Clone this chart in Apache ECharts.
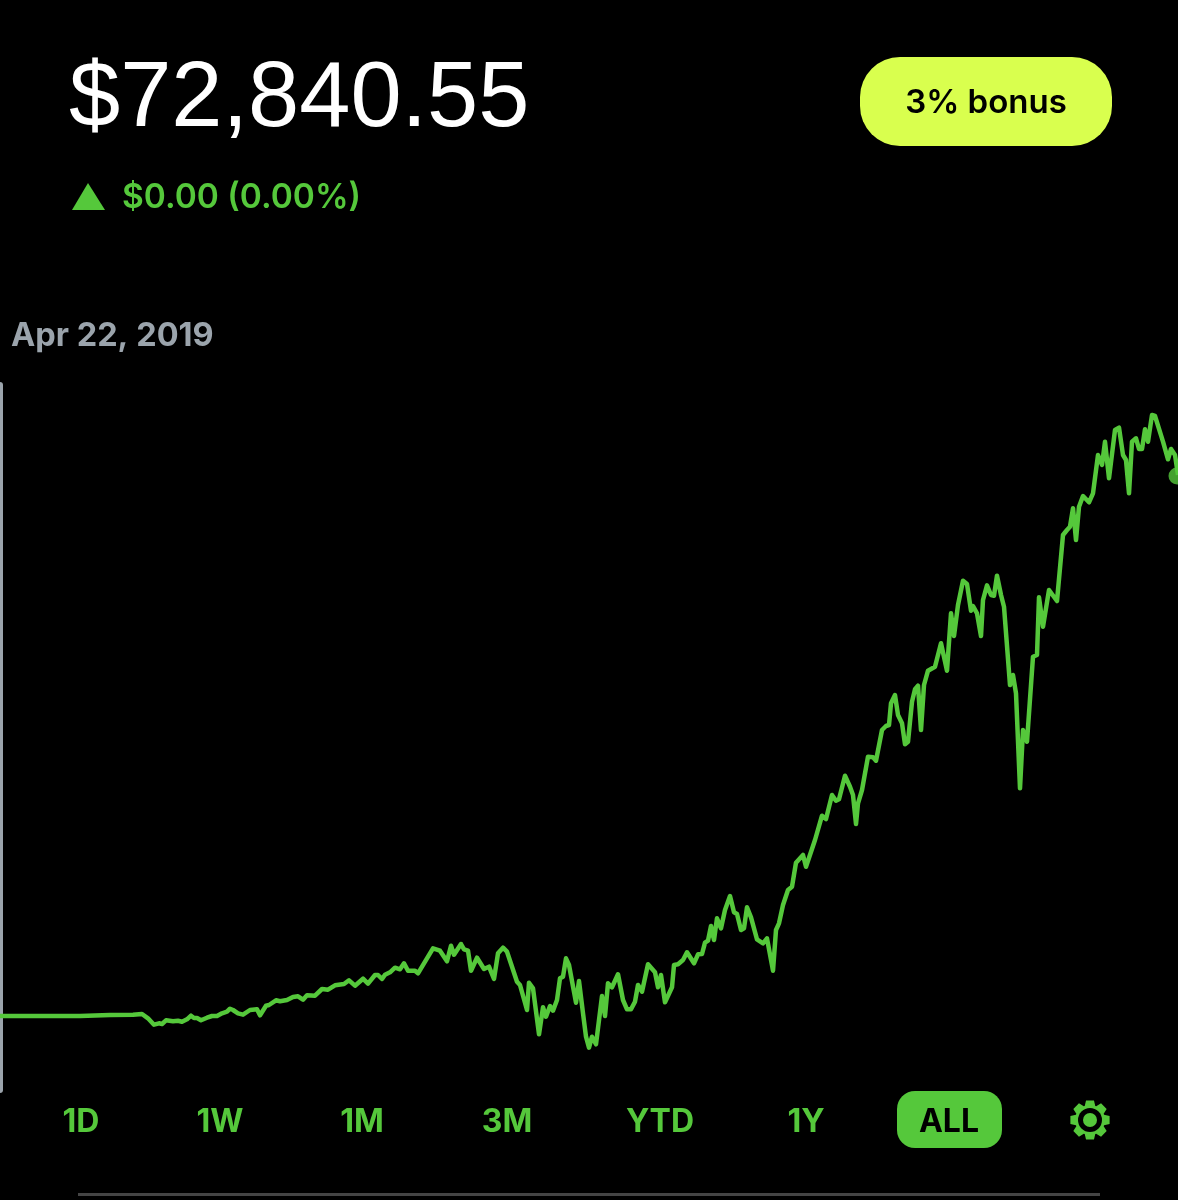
<!DOCTYPE html>
<html>
<head>
<meta charset="utf-8">
<style>
  html, body { margin: 0; padding: 0; background: #000; }
  #chart { width: 1178px; height: 1200px; }
</style>
<script src="https://cdn.jsdelivr.net/npm/echarts@6/dist/echarts.min.js"></script>
</head>
<body>
<div id="chart"></div>
<script>
// there is no printed axis so both are in relative units
const times = [
  0, 80, 110, 133, 142, 148, 154, 159, 162, 166, 173, 178, 182, 187, 191, 194, 197, 201, 207, 212,
  217, 222, 227, 230, 233, 238, 243, 250, 257, 260, 266, 269, 276, 280, 287, 293, 298, 299, 303, 307,
  315, 322, 328, 335, 344, 349, 355, 363, 368, 375, 378, 382, 385, 390, 395, 400, 404, 408, 415, 418,
  433, 440, 447, 451, 454, 461, 464, 468, 471, 477, 484, 489, 494, 498, 503, 507, 517, 520, 527, 529,
  533, 539, 543, 546, 550, 553, 557, 560, 563, 566, 569, 576, 579, 583, 586, 589, 592, 596, 602, 605,
  608, 612, 618, 623, 627, 631, 635, 638, 642, 648, 655, 658, 661, 665, 672, 674, 678, 683, 687, 694,
  698, 702, 705, 708, 711, 714, 717, 721, 725, 730, 734, 737, 741, 744, 747, 751, 753, 757, 763, 767,
  773, 776, 779, 783, 788, 792, 796, 803, 806, 815, 822, 826, 832, 836, 839, 845, 850, 853, 856, 858,
  862, 868, 873, 876, 882, 886, 889, 891, 895, 898, 902, 905, 908, 912, 915, 918, 921, 924, 928, 935,
  941, 947, 951, 954, 958, 963, 967, 971, 973, 977, 981, 983, 987, 991, 994, 997, 1001, 1004, 1010, 1013,
  1016, 1020, 1023, 1027, 1033, 1037, 1039, 1043, 1049, 1057, 1063, 1067, 1070, 1073, 1076, 1079, 1083, 1089, 1093, 1098,
  1102, 1105, 1109, 1115, 1119, 1123, 1126, 1129, 1132, 1136, 1139, 1142, 1145, 1148, 1152, 1155, 1163, 1168, 1171, 1175,
  1178
];
const balance = [
  74, 74, 75, 75.3, 76, 71.7, 65.3, 66.7, 66, 69.7, 68.7, 69.3, 68.3, 70.7, 74.3, 72, 72, 69.7, 72.3, 74,
  74, 76.7, 78.3, 81.3, 80, 76.7, 75.3, 80, 80.7, 74.7, 84.3, 85, 89.7, 88.7, 90, 93, 93.7, 95.3, 90.3, 94.7,
  94.3, 101, 100.3, 104.7, 106, 109.7, 104.3, 111.3, 106.3, 115, 115, 111, 115.3, 117.7, 122.3, 120.7, 126.7, 119.3, 119.3, 116.7,
  141.7, 139.3, 128.7, 144.3, 135.3, 146, 140.7, 139.3, 119.3, 132.3, 121, 123.3, 111, 136.7, 142.3, 138.3, 108.3, 105, 80, 107.3,
  101.7, 55.7, 82.7, 73.3, 84, 79.3, 90, 111.7, 113.3, 131.7, 125, 87.3, 109, 76.7, 53.3, 42.3, 53.3, 45.7, 94, 74,
  106.7, 102.7, 115.7, 90, 80.7, 80.7, 88.3, 105, 98.3, 125.7, 117.7, 102.7, 115, 87.7, 102.7, 125, 125.7, 130, 137.7, 126.7,
  135.7, 136, 147.3, 149.3, 164, 150, 171.7, 161.7, 180, 194, 177.7, 176, 160, 161.7, 182.7, 172.7, 171.7, 150.7, 146.7, 151.7,
  119.3, 160, 166.7, 185, 200, 203.3, 227.3, 235, 223.3, 250, 274.3, 271, 295, 289.3, 290.7, 314.3, 303.3, 295, 266, 286.7,
  300, 333.3, 332.7, 329.3, 360, 364, 365, 386.7, 395, 375, 366.7, 345.7, 348.3, 388.3, 400.7, 404.3, 360, 405, 419.3, 423.3,
  446.7, 419.3, 476.7, 454, 485, 509.3, 506, 479.3, 484, 476.7, 454, 490, 504.7, 495, 494.3, 514.3, 495, 483.3, 405, 415,
  396.7, 301.7, 360, 348.3, 433.3, 435, 492.7, 463.3, 500, 489, 555, 560, 563.3, 581.7, 550, 583.3, 594, 587.7, 596.7, 635,
  625, 648.3, 611.7, 660, 662.3, 635, 630, 596.7, 648.3, 651.7, 641, 641, 660.7, 648.3, 675, 674, 648.3, 630.7, 641, 635,
  615
];
const lastPoint = [1177, 614];
const ranges = ['1D', '1W', '1M', '3M', 'YTD', '1Y', 'ALL'];
const rangeCenters = [81, 220, 362, 507, 660, 806, 949];

const GREEN = '#55c83b';
const chart = echarts.init(document.getElementById('chart'), null, { renderer: 'canvas' });

// settings cog outline, 8 teeth
function gearPoints(cx, cy, outer, inner) {
  const pts = [];
  for (let i = 0; i < 8; i++) {
    const a = i * Math.PI / 4 - Math.PI / 2;
    [[-0.36, inner], [-0.2, outer], [0.2, outer], [0.36, inner]].forEach(function (p) {
      pts.push([cx + p[1] * Math.cos(a + p[0]), cy + p[1] * Math.sin(a + p[0])]);
    });
  }
  return pts;
}

const graphics = [
  { type: 'text', x: 69, y: 101, style: { text: '$72,840.55', fill: '#fff', font: '92px "Liberation Sans"', verticalAlign: 'middle' } },
  { type: 'polygon', shape: { points: [[88, 183], [72, 210], [105, 210]] }, style: { fill: GREEN } },
  { type: 'text', x: 122, y: 198, style: { text: '$0.00 (0.00%)', fill: GREEN, font: '600 33.5px Inter', verticalAlign: 'middle' } },
  { type: 'text', x: 11, y: 336, style: { text: 'Apr 22, 2019', fill: '#9ba4ac', font: '700 32.5px Inter', verticalAlign: 'middle' } },
  { type: 'rect', shape: { x: 860, y: 57, width: 252, height: 89, r: 40 }, style: { fill: '#d9ff4e' } },
  { type: 'text', x: 986, y: 103, style: { text: '3% bonus', fill: '#000', font: '600 33px Inter', align: 'center', verticalAlign: 'middle' } },
  { type: 'rect', shape: { x: 897, y: 1091, width: 105, height: 57, r: 18 }, style: { fill: GREEN } },
  { type: 'polygon', shape: { points: gearPoints(1090, 1120, 20, 15) }, style: { fill: GREEN } },
  { type: 'circle', shape: { cx: 1090, cy: 1120, r: 12 }, style: { fill: '#000' } },
  { type: 'circle', shape: { cx: 1090, cy: 1120, r: 7 }, style: { fill: GREEN } },
  { type: 'rect', shape: { x: 78, y: 1193, width: 1022, height: 3 }, style: { fill: '#454545' } }
];
ranges.forEach(function (r, i) {
  graphics.push({
    type: 'text', x: rangeCenters[i], y: 1122,
    style: { text: r, fill: r === 'ALL' ? '#000' : GREEN, font: '700 32px Inter', align: 'center', verticalAlign: 'middle' }
  });
});

chart.setOption({
  backgroundColor: '#000',
  animation: false,
  grid: { left: 0, right: 0, top: 385, bottom: 110 },
  xAxis: { type: 'value', min: 0, max: 1178, show: false },
  yAxis: {
    type: 'value', min: 0, max: 705,
    axisLine: { show: true, lineStyle: { color: '#9ba4ac', width: 6 } },
    axisTick: { show: false }, axisLabel: { show: false }, splitLine: { show: false }
  },
  graphic: graphics,
  series: [
    {
      type: 'line',
      data: times.map(function (t, i) { return [t, balance[i]]; }),
      showSymbol: false,
      lineStyle: { color: GREEN, width: 4.5, join: 'round' }
    },
    {
      type: 'scatter',
      data: [lastPoint],
      symbolSize: 17,
      itemStyle: { color: GREEN },
      clip: true
    }
  ]
});
</script>
</body>
</html>
